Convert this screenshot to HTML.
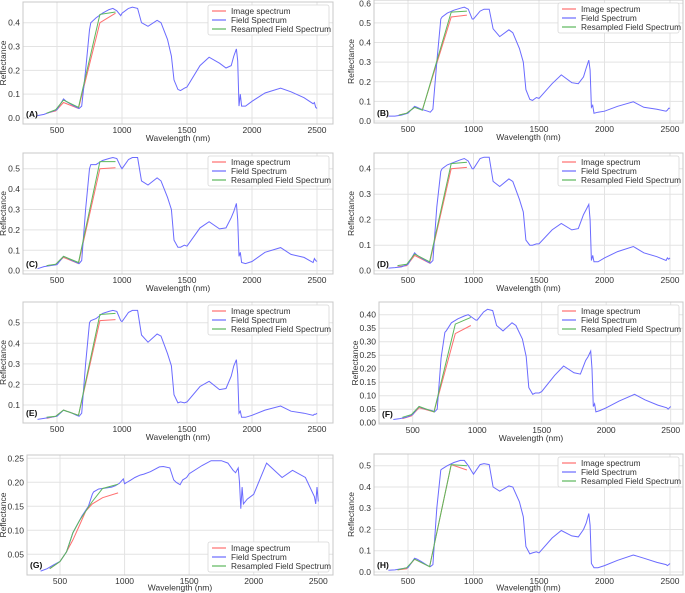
<!DOCTYPE html>
<html><head><meta charset="utf-8"><style>
html,body{margin:0;padding:0;background:#fff;}
svg{display:block;font-family:"Liberation Sans","DejaVu Sans",sans-serif;}
</style></head><body>
<svg id="fig" width="685" height="593" viewBox="0 0 685 593"></svg>
<script>
// ---- data ----
const wl = [350,400,450,500,550,570,600,650,670,690,720,750,760,800,850,900,930,960,990,1000,1050,1080,1120,1150,1200,1270,1300,1350,1380,1400,1430,1450,1480,1500,1600,1670,1750,1800,1840,1860,1880,1890,1900,1910,1920,1950,2000,2100,2220,2300,2400,2470,2480,2490,2500];
const fieldA = [.01,.015,.025,.035,.08,.07,.06,.045,.04,.05,.2,.37,.40,.42,.44,.455,.46,.45,.43,.44,.46,.465,.46,.40,.385,.41,.40,.33,.26,.16,.12,.115,.125,.13,.22,.255,.23,.21,.22,.26,.29,.24,.05,.1,.05,.05,.07,.105,.125,.11,.085,.06,.065,.045,.04];
const fieldB = [.025,.025,.03,.04,.075,.07,.06,.05,.045,.06,.3,.52,.53,.55,.565,.575,.58,.57,.52,.52,.56,.57,.57,.47,.43,.465,.45,.37,.30,.16,.11,.105,.12,.115,.19,.235,.195,.19,.225,.27,.31,.26,.07,.08,.04,.045,.05,.075,.098,.07,.06,.05,.055,.065,.065];
const fieldC = [.01,.02,.025,.03,.07,.065,.055,.04,.035,.05,.3,.5,.52,.52,.54,.55,.555,.55,.51,.50,.545,.555,.555,.44,.42,.455,.44,.36,.30,.15,.115,.115,.125,.12,.21,.24,.205,.21,.26,.29,.33,.25,.07,.09,.04,.035,.045,.09,.113,.08,.065,.04,.06,.05,.045];
const fieldD = [.01,.012,.015,.025,.07,.06,.05,.035,.03,.04,.25,.39,.40,.415,.425,.435,.44,.43,.40,.40,.44,.445,.445,.35,.33,.36,.35,.28,.23,.12,.10,.10,.105,.105,.16,.185,.16,.165,.22,.24,.26,.20,.04,.06,.035,.035,.05,.075,.095,.07,.055,.04,.05,.045,.05];
const fieldE = [.03,.035,.04,.045,.075,.07,.065,.05,.045,.06,.3,.5,.51,.52,.545,.555,.56,.555,.51,.505,.55,.56,.56,.44,.405,.445,.435,.35,.29,.15,.11,.115,.11,.115,.19,.215,.175,.18,.24,.29,.32,.25,.06,.07,.04,.04,.05,.075,.095,.07,.06,.05,.055,.055,.06];
const fieldF = [.012,.015,.02,.03,.06,.055,.05,.045,.04,.05,.24,.335,.34,.37,.385,.395,.40,.39,.38,.38,.41,.42,.415,.36,.34,.37,.36,.31,.245,.13,.105,.11,.11,.115,.175,.21,.185,.18,.23,.245,.265,.20,.06,.07,.04,.045,.055,.08,.105,.085,.065,.055,.05,.055,.06];
const fieldG = [.015,.02,.028,.035,.055,.07,.095,.12,.13,.138,.15,.175,.18,.186,.188,.19,.193,.198,.207,.197,.205,.21,.215,.217,.222,.232,.233,.23,.205,.2,.195,.205,.21,.218,.235,.245,.245,.24,.225,.22,.23,.2,.145,.19,.155,.165,.175,.24,.21,.225,.21,.17,.155,.19,.16];
const fieldH = [.008,.01,.015,.02,.065,.06,.05,.03,.025,.035,.3,.48,.485,.50,.515,.525,.525,.50,.47,.46,.505,.51,.505,.40,.38,.405,.40,.33,.26,.12,.085,.09,.095,.09,.16,.195,.17,.165,.20,.23,.275,.22,.04,.03,.02,.02,.03,.055,.08,.065,.045,.035,.03,.035,.04];
const bandWl = [420,490,550,665,830,950];
const bandWlB = [430,490,550,610,830,950];
const bandWlG = [420,500,550,600,650,700,750,830,950];
const imageA = [.02,.03,.065,.04,.40,.44];
const resampA = [.02,.035,.075,.045,.435,.445];
const imageB = [.03,.04,.07,.058,.53,.54];
const resampB = [.03,.04,.07,.055,.555,.56];
const imageC = [.025,.03,.065,.035,.50,.505];
const resampC = [.025,.032,.07,.04,.535,.535];
const imageD = [.015,.02,.06,.03,.40,.405];
const resampD = [.02,.025,.065,.035,.42,.425];
const imageE = [.035,.045,.075,.05,.51,.515];
const resampE = [.04,.045,.075,.05,.54,.545];
const imageF = [.015,.025,.055,.04,.33,.36];
const resampF = [.02,.03,.06,.04,.365,.39];
const imageG = [.02,.035,.055,.08,.11,.14,.155,.168,.178];
const resampG = [.02,.035,.055,.095,.12,.14,.16,.187,.196];
const imageH = [.01,.015,.06,.025,.505,.48];
const resampH = [.01,.02,.06,.025,.505,.50];
const xTicks = [500,1000,1500,2000,2500];
const yTicksA = [0,0.1,0.2,0.3,0.4];
const yTicksB = [0,0.1,0.2,0.3,0.4,0.5,0.6];
const yTicksC = [0,0.1,0.2,0.3,0.4,0.5];
const yTicksD = [0,0.1,0.2,0.3,0.4];
const yTicksE = [0.1,0.2,0.3,0.4,0.5];
const yTicksF = [0,0.05,0.1,0.15,0.2,0.25,0.3,0.35,0.4];
const yTicksG = [0.05,0.1,0.15,0.2,0.25];
const yTicksH = [0,0.1,0.2,0.3,0.4,0.5];
const panelLabels = ["(A)","(B)","(C)","(D)","(E)","(F)","(G)","(H)"];
const legendLabels = ["Image spectrum","Field Spectrum","Resampled Field Spectrum"];

// ---- layout (pixel geometry) ----
const panels = [
 {id:"a",box:[23,2,333,124],xm:[57,317],ym:[0,118,0.4,22.7],yt:yTicksA,dec:1,field:fieldA,bw:bandWl,img:imageA,rs:resampA,leg:"top"},
 {id:"b",box:[374,0,683,123],xm:[408,670],ym:[0,121,0.6,3.3],yt:yTicksB,dec:1,field:fieldB,bw:bandWlB,img:imageB,rs:resampB,leg:"top"},
 {id:"c",box:[23,153,333,274],xm:[57,317],ym:[0,270.7,0.5,168.7],yt:yTicksC,dec:1,field:fieldC,bw:bandWl,img:imageC,rs:resampC,leg:"top"},
 {id:"d",box:[374,153,683,274],xm:[408,670],ym:[0,270.7,0.4,168.7],yt:yTicksD,dec:1,field:fieldD,bw:bandWl,img:imageD,rs:resampD,leg:"top"},
 {id:"e",box:[23,302,333,423],xm:[57,317],ym:[0.1,405,0.5,322.7],yt:yTicksE,dec:1,field:fieldE,bw:bandWl,img:imageE,rs:resampE,leg:"top"},
 {id:"f",box:[379,302,683,424],xm:[412.7,670.7],ym:[0,422.7,0.4,314.7],yt:yTicksF,dec:2,field:fieldF,bw:bandWl,img:imageF,rs:resampF,leg:"top"},
 {id:"g",box:[27,455,333,575],xm:[60,318.3],ym:[0.05,554.3,0.25,458.3],yt:yTicksG,dec:2,field:fieldG,bw:bandWlG,img:imageG,rs:resampG,leg:"bottom"},
 {id:"h",box:[374,454,683,575],xm:[408,670],ym:[0,572,0.5,465.7],yt:yTicksH,dec:1,field:fieldH,bw:bandWl,img:imageH,rs:resampH,leg:"top"}
];
const NS="http://www.w3.org/2000/svg";
const svg=document.getElementById("fig");
function mk(tag,attrs,parent){const e=document.createElementNS(NS,tag);for(const k in attrs)e.setAttribute(k,attrs[k]);parent.appendChild(e);return e;}
const COL={img:"#ff6f6f",field:"#6b6bff",rs:"#5cb85c"};

panels.forEach((p,i)=>{
  const g=mk("g",{},svg);
  
  
  const [L,T,R,B]=p.box;
  const bottomRow = i>=6;
  const xs=v=>p.xm[0]+(v-500)*(p.xm[1]-p.xm[0])/2000;
  const ys=v=>p.ym[1]+(v-p.ym[0])*(p.ym[3]-p.ym[1])/(p.ym[2]-p.ym[0]);
  xTicks.forEach(t=>{
    const ln=mk("line",{x1:xs(t),x2:xs(t),y1:T,y2:B,stroke:"#e3e3e3","stroke-width":1},g);
    
    
    const tx=mk("text",{x:xs(t),y:B+9,"font-size":8.5,"text-anchor":"middle",fill:"#333"},g);
    tx.textContent=t;
    
    
  });
  p.yt.forEach(t=>{
    const ln=mk("line",{x1:L,x2:R,y1:ys(t),y2:ys(t),stroke:"#e3e3e3","stroke-width":1},g);
    
    
    const tx=mk("text",{x:L-3,y:ys(t)+3,"font-size":8.5,"text-anchor":"end",fill:"#333"},g);
    tx.textContent=t.toFixed(p.dec);
    
    
  });
  const fr=mk("rect",{x:L,y:T,width:R-L,height:B-T,fill:"none",stroke:"#c8c8c8","stroke-width":1},g);
  
  
  const pts=(xsArr,vals)=>xsArr.map((w,k)=>xs(w).toFixed(1)+","+ys(vals[k]).toFixed(1)).join(" ");
  const ri=mk("polyline",{points:pts(p.bw,p.img),fill:"none",stroke:COL.img,"stroke-width":1},g);
  
  
  const rf=mk("polyline",{points:pts(wl,p.field),fill:"none",stroke:COL.field,"stroke-width":1},g);
  
  
  const rr=mk("polyline",{points:pts(p.bw,p.rs),fill:"none",stroke:COL.rs,"stroke-width":1},g);
  
  
  const xt=mk("text",{x:(L+R)/2,y:bottomRow?B+15.5:B+17,"font-size":8.5,"text-anchor":"middle",fill:"#333"},g);
  xt.textContent="Wavelength (nm)";
  
  
  const yx = (i%2===0)?6:(p.id==="f"?358:354);
  const yt=mk("text",{x:yx,y:(T+B)/2,"font-size":8.5,"text-anchor":"middle",fill:"#333",transform:`rotate(-90 ${yx} ${(T+B)/2})`},g);
  yt.textContent="Reflectance";
  
  
  const pl=mk("text",{x:L+3,y:B-7,"font-size":8.5,"font-weight":"bold",fill:"#111"},g);
  pl.textContent=panelLabels[i];
  
  
  const lw=121, lh=30;
  const lx=R-lw-4, ly=p.leg==="top"?T+3:B-lh-3;
  const lg=mk("g",{},g);
  
  
  mk("rect",{x:lx,y:ly,width:lw,height:lh,fill:"#fff",stroke:"#d8d8d8","stroke-width":0.8,rx:2},lg);
  [COL.img,COL.field,COL.rs].forEach((c,k)=>{
    const yy=ly+6+k*9;
    const sw=mk("line",{x1:lx+4,x2:lx+18,y1:yy,y2:yy,stroke:c,"stroke-width":1.2},lg);
    
    
    const t=mk("text",{x:lx+23,y:yy+3,"font-size":8.3,fill:"#333"},lg);
    t.textContent=legendLabels[k];
    
    
  });
});
</script>
</body></html>
